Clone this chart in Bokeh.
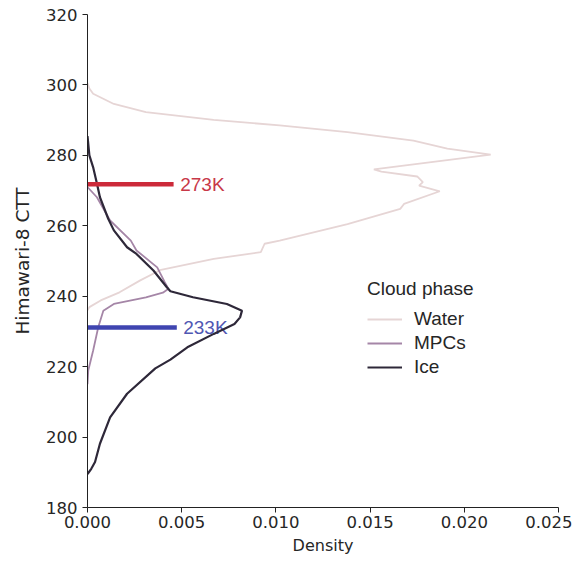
from bokeh.plotting import figure
from bokeh.models import Range1d, Legend, LegendItem, FixedTicker, NumeralTickFormatter
from bokeh.core.properties import value
from bokeh.embed import file_html
from bokeh.resources import INLINE

# ---- data ----
water_ctt = [300.5, 299.0, 297.5, 294.6, 292.3, 290.1, 288.5, 286.6, 284.2, 281.9, 280.2,
             276.0, 275.4, 274.0, 272.4, 271.4, 269.8, 266.2, 264.8, 260.5, 255.8, 254.9,
             252.5, 250.6, 247.5, 244.5, 241.1, 238.8, 236.9, 236.0]
water_density = [0.0, 0.0001, 0.0003, 0.0014, 0.0031, 0.0067, 0.0102, 0.0138, 0.0173, 0.0191, 0.0214,
                 0.0152, 0.0156, 0.0175, 0.0178, 0.0176, 0.0187, 0.0168, 0.0166, 0.0138, 0.0102, 0.0094,
                 0.0092, 0.0067, 0.0039, 0.0028, 0.0017, 0.0007, 0.0001, 0.0]

mpc_ctt = [271.0, 268.1, 261.5, 255.8, 253.0, 248.2, 244.0, 242.1, 241.0, 239.7, 237.8,
           235.9, 231.2, 224.6, 218.9, 215.0]
mpc_density = [0.0, 0.0005, 0.0012, 0.0023, 0.0026, 0.0037, 0.0041, 0.0043, 0.0040, 0.0031, 0.0014,
               0.00084, 0.00057, 0.0003, 0.00004, 0.0]

ice_ctt = [285.5, 280.0, 276.6, 272.0, 268.1, 262.0, 258.7, 253.9, 252.0, 247.3, 242.6, 241.4,
           239.7, 237.8, 235.9, 234.0, 232.1, 229.3, 225.5, 222.0, 219.5, 212.3, 205.6, 198.1,
           192.9, 191.0, 189.5]
ice_density = [0.0, 0.0001, 0.0003, 0.0005, 0.00066, 0.0011, 0.0014, 0.0021, 0.0026, 0.0035, 0.0042, 0.0044,
               0.0056, 0.0074, 0.0082, 0.0081, 0.0078, 0.0067, 0.0053, 0.0044, 0.0036, 0.0021, 0.0012, 0.00066,
               0.0004, 0.0002, 0.0]

ref_temps = [271.8, 231.1]
ref_labels = ["273K", "233K"]
ref_bar_end = [0.00457, 0.00474]
ref_text_x = [0.00492, 0.00508]
ref_colors = ["#cc2a3a", "#3f45b0"]
ref_text_colors = ["#c83848", "#5057b3"]

x_ticks = [0.0, 0.005, 0.010, 0.015, 0.020, 0.025]
y_ticks = [180, 200, 220, 240, 260, 280, 300, 320]

series_names = ["Water", "MPCs", "Ice"]
series_colors = ["#e6d5d5", "#a586a7", "#2e2839"]

# ---- figure ----
p = figure(frame_width=471, frame_height=493, output_backend="svg", toolbar_location=None,
           x_range=Range1d(0, 0.025), y_range=Range1d(180, 320),
           min_border_left=87, min_border_right=14, min_border_top=14, min_border_bottom=47)
p.outline_line_color = None
p.xgrid.visible = False
p.ygrid.visible = False
p.background_fill_color = "white"

for ax in (p.xaxis[0], p.yaxis[0]):
    ax.axis_line_color = "#222222"
    ax.major_tick_line_color = "#222222"
    ax.minor_tick_line_color = None
    ax.major_tick_out = 5
    ax.major_tick_in = 0
    ax.major_label_text_font = "DejaVu Sans"
    ax.major_label_text_font_size = "16.5px"
    ax.major_label_text_color = "#262626"
    ax.axis_label_text_font = "DejaVu Sans"
    ax.axis_label_text_font_style = "normal"
    ax.axis_label_text_color = "#262626"

p.xaxis.ticker = FixedTicker(ticks=x_ticks)
p.xaxis.formatter = NumeralTickFormatter(format="0.000")
p.yaxis.ticker = FixedTicker(ticks=y_ticks)
p.xaxis.axis_label = "Density"
p.xaxis.axis_label_text_font_size = "16px"
p.xaxis.major_label_standoff = 3
p.xaxis.axis_label_standoff = 5
p.yaxis.axis_label = "Himawari-8 CTT"
p.yaxis.axis_label_text_font_size = "18.5px"
p.yaxis.major_label_standoff = 5
p.yaxis.axis_label_standoff = 10

# reference labels (under the curves)
for t, lab, tx, tc in zip(ref_temps, ref_labels, ref_text_x, ref_text_colors):
    p.text(x=[tx], y=[t], text=[lab], text_font=value("Liberation Sans"), text_font_size="19px",
           text_color=tc, text_baseline="middle", text_align="left")

r_water = p.line(water_density, water_ctt, line_color=series_colors[0], line_width=1.8)
r_mpc = p.line(mpc_density, mpc_ctt, line_color=series_colors[1], line_width=1.8)
r_ice = p.line(ice_density, ice_ctt, line_color=series_colors[2], line_width=2.2)

for t, xe, c in zip(ref_temps, ref_bar_end, ref_colors):
    p.segment(x0=[0], y0=[t], x1=[xe], y1=[t], line_color=c, line_width=4.5)

legend = Legend(items=[LegendItem(label=series_names[0], renderers=[r_water]),
                       LegendItem(label=series_names[1], renderers=[r_mpc]),
                       LegendItem(label=series_names[2], renderers=[r_ice])],
                location=(280, 129), title="Cloud phase")
legend.title_text_font = "Liberation Sans"
legend.title_text_font_size = "19px"
legend.title_text_font_style = "normal"
legend.title_text_color = "#262626"
legend.title_standoff = 8
legend.label_text_font = "Liberation Sans"
legend.label_text_font_size = "19px"
legend.label_text_color = "#262626"
legend.glyph_width = 35
legend.glyph_height = 22
legend.label_height = 22
legend.label_standoff = 12
legend.spacing = 2
legend.padding = 0
legend.margin = 0
legend.border_line_color = None
legend.background_fill_alpha = 0
p.add_layout(legend, "center")

open("out.html", "w").write(file_html(p, INLINE))
